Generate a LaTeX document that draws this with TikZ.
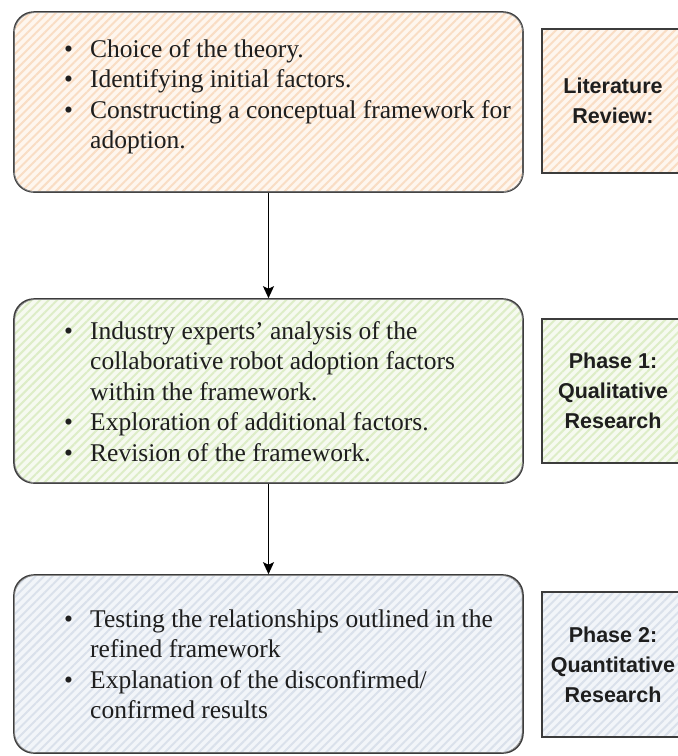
\documentclass[tikz,border=0pt]{standalone}
\usepackage{fontspec}
\setmainfont{Liberation Serif}
\newfontfamily\labelfont{Liberation Sans}
\usetikzlibrary{patterns.meta,arrows.meta}

\definecolor{edge}{HTML}{3C3C3C}
\definecolor{edgelight}{HTML}{8A8A8A}
\definecolor{ink}{HTML}{1E1E1E}
\definecolor{orangebase}{HTML}{FEF6EE}
\definecolor{orangehatch}{HTML}{F9DDC4}
\definecolor{greenbase}{HTML}{F6FAF0}
\definecolor{greenhatch}{HTML}{DDEDC7}
\definecolor{bluebase}{HTML}{F2F5F9}
\definecolor{bluehatch}{HTML}{DAE1EB}

% bullet sitting in the left margin of a list line
\newcommand{\bul}{\llap{\makebox[28pt][l]{\hspace{2pt}\textbullet}}}
% straight typewriter apostrophe
\newcommand{\sq}{\char"0027\relax}

\tikzset{
  hatched/.style 2 args={
    preaction={fill=#1},
    pattern={Lines[angle=45,distance=6pt,line width=2pt]},
    pattern color=#2},
  stagebox/.style={draw=edge, line width=1.6pt, rounded corners=20pt,
    minimum width=509pt, inner sep=0pt},
  tagbox/.style={draw=edge, line width=1.6pt, minimum width=142pt,
    minimum height=144pt, inner sep=0pt, align=center, text=ink,
    font=\labelfont\bfseries\fontsize{21.5}{30}\selectfont},
  sketch/.style={draw=edgelight, line width=0.7pt},
  bullets/.style={anchor=base west, inner sep=0pt, text=ink,
    font=\fontsize{25.5}{30.5}\selectfont},
  flow/.style={draw=black, line width=1.3pt,
    -{Stealth[length=12pt,width=11pt,inset=2.5pt]}}
}

\begin{document}
\begin{tikzpicture}[x=1pt,y=-1pt]
\useasboundingbox (0,0) rectangle (678,756);

% stage boxes
\node[stagebox, minimum height=180pt, hatched={orangebase}{orangehatch}] (b1) at (268.5,102) {};
\node[stagebox, minimum height=184pt, hatched={greenbase}{greenhatch}] (b2) at (268.5,391) {};
\node[stagebox, minimum height=178pt, hatched={bluebase}{bluehatch}] (b3) at (268.5,664) {};

% second pencil stroke for a hand-drawn look
\draw[sketch, rounded corners=21pt] ([shift={(1.2,1.5)}]b1.north west) rectangle ([shift={(-1,-1.2)}]b1.south east);
\draw[sketch, rounded corners=21pt] ([shift={(1.5,1.2)}]b2.north west) rectangle ([shift={(-1.2,-1)}]b2.south east);
\draw[sketch, rounded corners=21pt] ([shift={(1.2,1.2)}]b3.north west) rectangle ([shift={(-1.5,-1.2)}]b3.south east);

% side labels
\node[tagbox, hatched={orangebase}{orangehatch}] (p0) at (613,101) {Literature\\Review:};
\node[tagbox, hatched={greenbase}{greenhatch}] (p1) at (613,391) {Phase 1:\\Qualitative\\Research};
\node[tagbox, minimum height=145pt, hatched={bluebase}{bluehatch}] (p2) at (613,664.5) {Phase 2:\\Quantitative\\Research};

% bullet texts
\node[bullets] (l1) at (90,57) {\begin{tabular}[t]{@{}l@{}}
  \bul Choice of the theory.\\
  \bul Identifying initial factors.\\
  \bul Constructing a conceptual framework for\\
  adoption.
\end{tabular}};
\node[bullets] (l2) at (90,339) {\begin{tabular}[t]{@{}l@{}}
  \bul Industry experts\sq{} analysis of the\\
  collaborative robot adoption factors\\
  within the framework.\\
  \bul Exploration of additional factors.\\
  \bul Revision of the framework.
\end{tabular}};
\node[bullets] (l3) at (90,627) {\begin{tabular}[t]{@{}l@{}}
  \bul Testing the relationships outlined in the\\
  refined framework\\
  \bul Explanation of the disconfirmed/\\
  confirmed results
\end{tabular}};

% connectors
\draw[flow] (b1.south) -- (b2.north);
\draw[flow] (b2.south) -- (b3.north);
\end{tikzpicture}
\end{document}
